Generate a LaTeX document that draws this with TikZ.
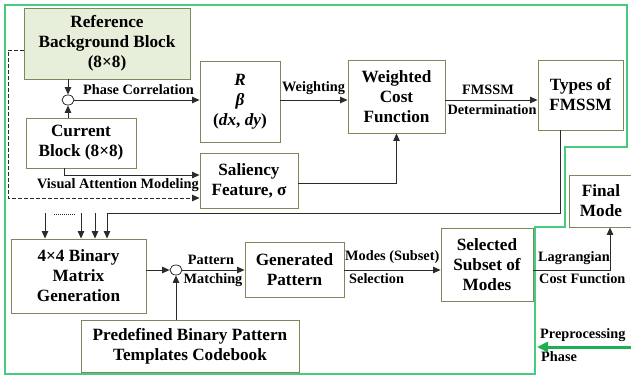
\documentclass[tikz,border=0pt]{standalone}
\usepackage{fontspec}
\setmainfont{Liberation Serif}
\usetikzlibrary{arrows.meta,calc,shapes.geometric}
\definecolor{boxline}{HTML}{7A8A5C}
\definecolor{reffill}{HTML}{E7EEDA}
\definecolor{frame}{HTML}{45CC80}
\definecolor{garrow}{HTML}{1FAE50}
\definecolor{wire}{HTML}{2A2A2A}
\tikzset{
  blk/.style={draw=boxline, line width=0.9pt, align=center, inner sep=1pt,
    font=\bfseries\fontsize{17.2}{20}\selectfont},
  junc/.style={draw=wire, line width=0.8pt, ellipse, minimum width=12pt, minimum height=10pt, inner sep=0pt},
  wirestyle/.style={draw=wire, line width=0.9pt},
  arr/.style={wirestyle, -{Triangle[length=7.5pt,width=6.5pt]}},
  lab/.style={font=\bfseries\fontsize{14.3}{16}\selectfont, inner sep=0pt},
}
\begin{document}
\begin{tikzpicture}[x=1pt,y=-1pt]
\useasboundingbox (0,0) rectangle (631,377);
% green frame
\draw[frame, line width=1.4pt] (5,5) -- (627,5) -- (627,147) -- (565,147) -- (565,227) -- (535,227) -- (535,374) -- (5,374) -- cycle;
% boxes
\node[blk, fill=reffill, minimum width=166pt, minimum height=71pt] (ref) at (107,43.5) {Reference\\Background Block\\(8×8)};
\node[blk, minimum width=110pt, minimum height=50pt] (cur) at (81,143) {Current\\Block (8×8)};
\node[blk, minimum width=80pt, minimum height=81pt] (rb) at (240,101.5) {\textit{R}\\\textit{β}\\(\textit{dx}, \textit{dy})};
\node[blk, minimum width=98pt, minimum height=55pt] (sal) at (249,180.5) {Saliency\\Feature, σ};
\node[blk, minimum width=97pt, minimum height=73pt] (wcf) at (396.5,96.5) {Weighted\\Cost\\Function};
\node[blk, minimum width=85pt, minimum height=70pt] (typ) at (580.5,95) {Types of\\FMSSM};
\node[blk, minimum width=64pt, minimum height=52pt] (fin) at (601,201) {Final\\Mode};
\node[blk, minimum width=135pt, minimum height=74pt] (bin) at (78.5,276) {4×4 Binary\\Matrix\\Generation};
\node[blk, minimum width=99pt, minimum height=55pt] (gen) at (294.5,269.5) {Generated\\Pattern};
\node[blk, minimum width=92pt, minimum height=73pt] (sel) at (487,264.5) {Selected\\Subset of\\Modes};
\node[blk, minimum width=218pt, minimum height=52pt] (cb) at (190,346) {Predefined Binary Pattern\\Templates Codebook};
% junctions
\node[junc] (c1) at (68,100) {};
\node[junc] (c2) at (176,270) {};
% connectors top
\draw[arr] (ref.south -| c1) -- (c1.north);
\draw[arr] (cur.north -| c1) -- (c1.south);
\draw[arr] (c1.east) -- (c1.east -| rb.west);
\node[lab, anchor=south west] (lpc) at (83,95) {Phase Correlation};
\draw[arr] (rb.east |- c1) -- (wcf.west |- c1);
\node[lab, anchor=south west] (lw) at (282,95) {Weighting};
\draw[arr] (wcf.east |- c1) -- (typ.west |- c1);
\node[lab, anchor=south] (lf1) at (488,95) {FMSSM};
\node[lab, anchor=north] (lf2) at (492,104) {Determination};
% visual attention
\coordinate (va) at (64,175);
\draw[arr] (cur.south -| va) |- (sal.west |- va);
\node[lab, anchor=north west] (lva) at (37,178) {Visual Attention Modeling};
% saliency to cost
\draw[arr] ($(sal.east)+(0,2.5)$) -| (wcf.south);
% dashed
\coordinate (dl) at (8,198);
\draw[arr, dash pattern=on 3.5pt off 2.5pt] ($(ref.west)+(0,6.5)$) -| (dl) -- (sal.west |- dl);
% feedback
\coordinate (fb) at (107,213);
\draw[arr] ($(typ.south)+(-20.5,0)$) |- (fb) -- (fb |- bin.north);
\coordinate (a1) at (45,213);
\coordinate (a2) at (81,213);
\coordinate (a3) at (95,213);
\draw[arr] (a1) -- (a1 |- bin.north);
\draw[arr] (a2) -- (a2 |- bin.north);
\draw[arr] (a3) -- (a3 |- bin.north);
\coordinate (d1) at (54,214);
\coordinate (d2) at (76,214);
\draw[wirestyle, line width=0.7pt, dash pattern=on 1pt off 1pt] (d1) -- (d2);
% bottom row
\draw[arr] (bin.east |- c2) -- (c2.west);
\draw[arr] (c2 |- cb.north) -- (c2.south);
\draw[arr] (c2.east) -- (gen.west |- c2);
\node[lab, anchor=south] (lp1) at (211,265) {Pattern};
\node[lab, anchor=north] (lp2) at (213,273) {Matching};
\draw[arr] (gen.east |- c2) -- (sel.west |- c2);
\node[lab, anchor=south west] (lm1) at (345,264) {Modes (Subset)};
\node[lab, anchor=north west] (lm2) at (349,273) {Selection};
\draw[arr] (sel.east |- c2) -| ($(fin.south)+(9,0)$);
\node[lab, anchor=south west] (ll1) at (538,265) {Lagrangian};
\node[lab, anchor=north west] (ll2) at (539,273) {Cost Function};
% preprocessing arrow
\coordinate (pp) at (631,347);
\draw[garrow, line width=3pt, -{Triangle[length=11pt,width=10pt]}] (pp) -- (537,347);
\node[lab, anchor=south west] (lpp1) at (540,342) {Preprocessing};
\node[lab, anchor=north west] (lpp2) at (541,351) {Phase};
\end{tikzpicture}
\end{document}
